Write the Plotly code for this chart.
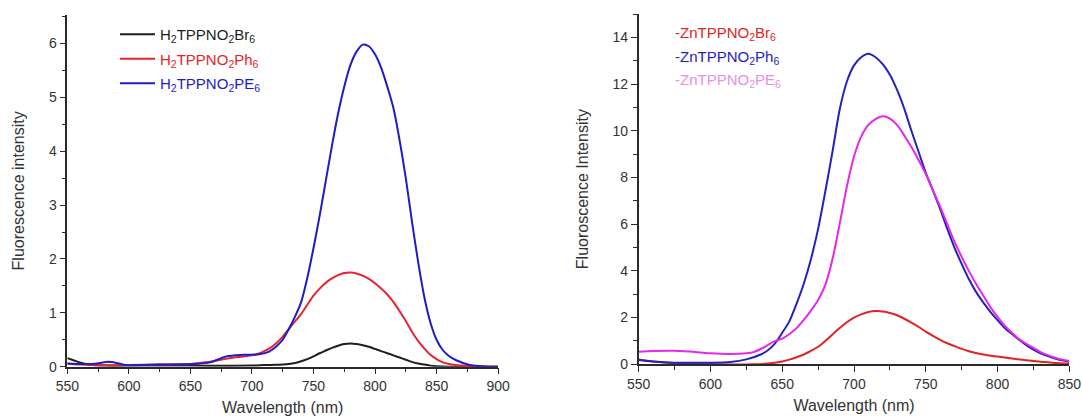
import plotly.graph_objects as go

# ---------------- Left panel data (free-base porphyrins) ----------------
wl_br6 = [550, 555, 560, 565, 570, 580, 600, 650, 700, 710, 720, 725, 730, 735, 740, 745, 750,
          755, 760, 765, 770, 775, 780, 785, 790, 795, 800, 805, 810, 815, 820, 825, 830, 835,
          840, 845, 850, 860, 880, 900]
int_br6 = [0.16, 0.12, 0.08, 0.05, 0.03, 0.02, 0.02, 0.02, 0.02, 0.03, 0.035, 0.04, 0.05, 0.07,
           0.10, 0.14, 0.19, 0.25, 0.30, 0.35, 0.39, 0.42, 0.43, 0.42, 0.40, 0.37, 0.33, 0.29,
           0.25, 0.21, 0.17, 0.13, 0.09, 0.06, 0.04, 0.02, 0.01, 0.0, 0.0, 0.0]

wl_ph6 = [550, 560, 570, 600, 625, 650, 666, 680, 693, 700, 705, 710, 715, 720, 725, 730, 735,
          740, 745, 750, 755, 760, 765, 770, 775, 780, 785, 790, 795, 800, 805, 810, 815, 820,
          825, 830, 835, 840, 845, 850, 855, 860, 870, 880, 900]
int_ph6 = [0.06, 0.04, 0.03, 0.03, 0.04, 0.05, 0.09, 0.15, 0.19, 0.21, 0.24, 0.29, 0.35, 0.44,
           0.56, 0.70, 0.84, 0.98, 1.15, 1.32, 1.45, 1.56, 1.64, 1.70, 1.74, 1.75, 1.73, 1.69,
           1.63, 1.55, 1.45, 1.34, 1.20, 1.03, 0.85, 0.65, 0.48, 0.34, 0.22, 0.14, 0.08, 0.05,
           0.02, 0.005, 0.0]

wl_pe6 = [550, 560, 570, 577, 583, 590, 598, 625, 652, 666, 679, 693, 706, 714, 720, 725, 730,
          735, 740, 745, 750, 755, 760, 765, 770, 775, 780, 785, 790, 795, 800, 805, 810, 815,
          820, 825, 830, 835, 840, 845, 850, 855, 860, 866, 877, 890, 900]
int_pe6 = [0.06, 0.05, 0.05, 0.07, 0.09, 0.07, 0.03, 0.04, 0.05, 0.08, 0.19, 0.22, 0.23, 0.28,
           0.38, 0.50, 0.70, 0.93, 1.20, 1.65, 2.20, 2.80, 3.45, 4.10, 4.70, 5.20, 5.60, 5.85,
           5.98, 5.95, 5.80, 5.55, 5.20, 4.80, 4.20, 3.50, 2.70, 1.95, 1.30, 0.82, 0.50, 0.31,
           0.20, 0.12, 0.03, 0.005, 0.0]

# ---------------- Right panel data (Zn porphyrins) ----------------
wl_zn_br6 = [550, 560, 575, 600, 630, 640, 645, 650, 655, 660, 665, 670, 675, 680, 685, 690,
             695, 700, 705, 710, 715, 720, 725, 730, 735, 740, 745, 750, 755, 760, 765, 770,
             775, 780, 790, 800, 810, 820, 830, 840, 850]
int_zn_br6 = [0.21, 0.12, 0.04, 0.0, 0.0, 0.03, 0.07, 0.12, 0.20, 0.30, 0.42, 0.57, 0.75, 1.00,
              1.28, 1.55, 1.80, 2.00, 2.14, 2.24, 2.28, 2.26, 2.20, 2.10, 1.95, 1.78, 1.60, 1.40,
              1.22, 1.05, 0.90, 0.78, 0.66, 0.56, 0.42, 0.33, 0.25, 0.17, 0.11, 0.06, 0.02]

wl_zn_ph6 = [550, 560, 575, 600, 614, 625, 635, 640, 645, 650, 655, 660, 665, 670, 675, 680,
             685, 690, 695, 700, 705, 710, 715, 720, 725, 730, 735, 740, 745, 750, 755, 760,
             765, 770, 775, 780, 785, 790, 795, 800, 805, 810, 815, 820, 825, 830, 835, 840,
             845, 850]
int_zn_ph6 = [0.18, 0.12, 0.07, 0.07, 0.10, 0.21, 0.42, 0.60, 0.90, 1.35, 1.85, 2.60, 3.45,
              4.50, 5.80, 7.40, 9.10, 10.90, 12.10, 12.80, 13.15, 13.30, 13.15, 12.85, 12.40,
              11.75, 10.95, 10.00, 9.10, 8.20, 7.45, 6.65, 5.80, 5.00, 4.30, 3.65, 3.10, 2.65,
              2.25, 1.89, 1.55, 1.30, 1.05, 0.82, 0.63, 0.47, 0.35, 0.25, 0.17, 0.11]

wl_zn_pe6 = [550, 560, 575, 591, 600, 614, 625, 630, 637, 644, 650, 655, 660, 665, 670, 675,
             680, 685, 690, 695, 700, 705, 710, 715, 720, 725, 730, 735, 740, 745, 750, 755,
             760, 765, 770, 775, 780, 785, 790, 795, 800, 805, 810, 815, 820, 825, 830, 835,
             840, 845, 850]
int_zn_pe6 = [0.54, 0.57, 0.58, 0.52, 0.47, 0.44, 0.47, 0.52, 0.72, 0.97, 1.10, 1.30, 1.55,
              1.90, 2.30, 2.75, 3.40, 4.50, 6.00, 7.60, 8.90, 9.75, 10.25, 10.50, 10.62, 10.52,
              10.25, 9.80, 9.30, 8.75, 8.15, 7.45, 6.75, 6.00, 5.25, 4.60, 4.00, 3.45, 2.95,
              2.45, 2.03, 1.65, 1.35, 1.08, 0.88, 0.70, 0.52, 0.39, 0.28, 0.20, 0.14]

left_names = ["H<sub>2</sub>TPPNO<sub>2</sub>Br<sub>6</sub>",
              "H<sub>2</sub>TPPNO<sub>2</sub>Ph<sub>6</sub>",
              "H<sub>2</sub>TPPNO<sub>2</sub>PE<sub>6</sub>"]
right_names = ["-ZnTPPNO<sub>2</sub>Br<sub>6</sub>",
               "-ZnTPPNO<sub>2</sub>Ph<sub>6</sub>",
               "-ZnTPPNO<sub>2</sub>PE<sub>6</sub>"]

left_line_colors = ["#1e1e1e", "#e8232b", "#1c1cc8"]
left_text_colors = ["#1e1e1e", "#e8232b", "#1c1cc8"]
right_line_colors = ["#e02424", "#2222c0", "#e628e6"]
right_text_colors = ["#e02424", "#2222c0", "#e58fe5"]

W, H = 1082, 416
FONT = "Liberation Sans, Arial, sans-serif"
AX = "#2a2a2a"

fig = go.Figure()

left_data = [(wl_br6, int_br6), (wl_ph6, int_ph6), (wl_pe6, int_pe6)]
for i, ((xs, ys), nm, lc, tc) in enumerate(zip(left_data, left_names, left_line_colors, left_text_colors)):
    fig.add_trace(go.Scatter(x=xs, y=ys, mode="lines",
                             line=dict(color=lc, width=2, shape="spline", smoothing=0.8),
                             name=f'<span style="color:{tc}">{nm}</span>', legendgroup=f"g{i}",
                             xaxis="x", yaxis="y"))

right_data = [(wl_zn_br6, int_zn_br6), (wl_zn_ph6, int_zn_ph6), (wl_zn_pe6, int_zn_pe6)]
for (xs, ys), nm, lc in zip(right_data, right_names, right_line_colors):
    fig.add_trace(go.Scatter(x=xs, y=ys, mode="lines",
                             line=dict(color=lc, width=2, shape="spline", smoothing=0.8),
                             name=nm, showlegend=False, xaxis="x2", yaxis="y2"))


def px_x(p):
    return p / W


def px_y(p):
    return 1 - p / H


axis_common = dict(showline=True, linecolor=AX, linewidth=1.5, ticks="outside", ticklen=6,
                   tickwidth=1.3, tickcolor=AX, showgrid=False, zeroline=False, automargin=False,
                   tickfont=dict(family=FONT, size=14, color="#333333"),
                   title_font=dict(family=FONT, size=16, color="#333333"))

fig.update_layout(
    width=W, height=H,
    margin=dict(l=0, r=0, t=0, b=0),
    paper_bgcolor="white", plot_bgcolor="white",
    font=dict(family=FONT, size=14, color="#333333"),
    xaxis=dict(domain=[px_x(67.3), px_x(498.1)], range=[550, 900], dtick=50, tick0=550,
               minor=dict(dtick=25, ticks="outside", ticklen=4, tickcolor=AX),
               anchor="y", title=dict(text="Wavelength (nm)", standoff=9), **axis_common),
    yaxis=dict(domain=[px_y(366.7), px_y(15)], range=[0, 6.53], dtick=1, tick0=0,
               minor=dict(dtick=0.5, ticks="outside", ticklen=4, tickcolor=AX),
               anchor="x", title=dict(text="Fluorescence intensity", standoff=20), **axis_common),
    xaxis2=dict(domain=[px_x(638.7), px_x(1069.3)], range=[550, 850], dtick=50, tick0=550,
                minor=dict(dtick=25, ticks="outside", ticklen=4, tickcolor=AX),
                anchor="y2", title=dict(text="Wavelength (nm)", standoff=9), **axis_common),
    yaxis2=dict(domain=[px_y(364.3), px_y(14)], range=[0, 15], dtick=2, tick0=0,
                minor=dict(dtick=1, ticks="outside", ticklen=4, tickcolor=AX),
                anchor="x2", title=dict(text="Fluoroscence Intensity", standoff=20), **axis_common),
    legend=dict(x=px_x(115), y=px_y(18), xanchor="left", yanchor="top",
                bgcolor="rgba(0,0,0,0)", borderwidth=0,
                font=dict(family=FONT, size=15), tracegroupgap=2, itemwidth=35),
    showlegend=True,
)

for i, (nm, tc) in enumerate(zip(right_names, right_text_colors)):
    fig.add_annotation(xref="paper", yref="paper", x=px_x(673), y=px_y(33 + 24 * i),
                       xanchor="left", yanchor="middle", showarrow=False,
                       text=f'<span style="color:{tc}">{nm}</span>',
                       font=dict(family=FONT, size=15))

fig.write_html("out.html", config={"displayModeBar": False},
               post_script="document.body.style.margin='0';document.body.style.overflow='hidden';")
